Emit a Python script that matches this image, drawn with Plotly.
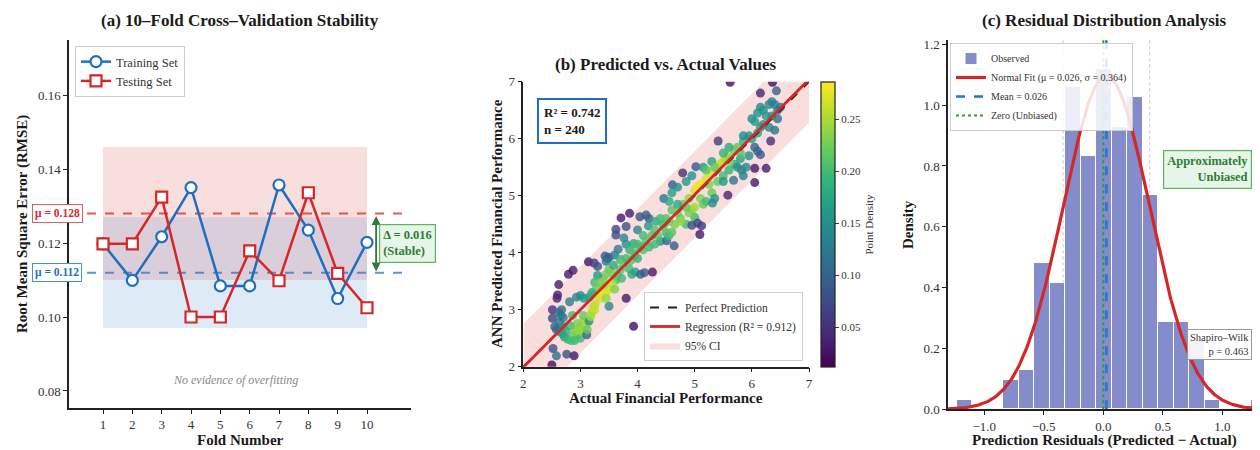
import numpy as np
import plotly.graph_objects as go

# The page body adds an 8 px margin; the figure is sized to fill the rest of the window.
OFF = 8
W, H = 1260 - OFF, 450 - OFF
FONT = "Liberation Serif"
BLUE = "#1f6fbf"
RED = "#d62728"
GREEN = "#2e7d32"

# ---------------- Panel (a) data ----------------
folds = list(range(1, 11))
train_rmse = [0.1198, 0.1099, 0.1217, 0.1350, 0.1084, 0.1084, 0.1357, 0.1235, 0.1050, 0.1202]
test_rmse = [0.1198, 0.1198, 0.1324, 0.1000, 0.1000, 0.1179, 0.1098, 0.1336, 0.1118, 0.1025]
train_mean = 0.112
test_mean = 0.128
train_band = [0.097, 0.127]
test_band = [0.110, 0.146]
delta_text = "0.016"

# ---------------- Panel (b) data ----------------
actual_vals = [
    2.50, 2.52, 2.58, 2.76, 2.89,
    2.51, 2.51, 2.59, 2.60, 2.62, 2.79, 2.87,
    2.62, 2.66, 2.70, 2.67, 2.63, 2.58, 2.62,
    2.81, 2.72, 2.78, 2.84, 2.88, 2.92, 2.96,
    3.00, 2.95, 3.05, 3.10, 3.00, 2.90, 3.02,
    3.00, 3.06, 3.15, 3.20, 3.11, 3.15, 2.70,
    2.86, 3.20, 3.25, 3.05, 2.95, 2.82, 2.75,
    2.68, 3.12, 3.18, 2.93, 2.55,
    3.14, 3.24, 3.30, 3.43, 3.47, 3.50, 3.45,
    3.60, 3.66, 3.70, 3.75, 3.80, 3.88, 3.95, 4.00,
    3.85, 3.90, 3.96, 4.05, 4.12, 4.26,
    3.40, 3.45, 3.50, 3.55, 3.62, 3.30, 3.25,
    3.50, 3.80, 3.93,
    3.30, 3.35, 3.40, 3.45, 3.50, 3.36, 3.26, 3.22, 3.55,
    3.45, 3.60, 3.42, 3.65, 3.70, 3.58, 3.72, 3.35, 3.28, 3.20,
    3.71, 3.86, 4.04, 4.15, 4.20, 3.80, 3.62, 3.62,
    4.19, 4.32, 4.45, 4.00, 3.93, 3.80, 3.86, 4.00, 4.06,
    3.76, 4.10, 4.40, 4.51, 4.64, 4.15, 4.25, 4.30,
    4.46, 4.50, 4.61, 4.79, 5.02,
    4.55, 4.60, 4.70, 4.80, 4.90, 4.75, 4.85, 4.95, 5.00,
    4.55, 4.60, 4.70, 4.85, 4.95, 5.15, 5.30,
    4.95, 5.05, 5.12, 5.09,
    5.00, 5.05, 5.10, 5.20, 5.30, 5.40, 5.45, 5.50,
    5.20, 5.35, 5.25, 5.10, 5.15, 5.30, 5.40,
    4.55, 4.60, 4.65, 4.75, 4.90, 5.00, 5.20, 5.35,
    5.31, 4.70, 4.85,
    5.55, 5.60, 5.70, 5.75, 5.50, 5.60, 5.70, 5.80,
    5.85, 5.60, 5.50, 5.50, 5.75, 5.82, 5.68, 5.85,
    5.90, 5.95, 6.00, 5.95, 5.85,
    5.41, 5.58, 6.05, 6.25, 6.05, 6.33,
    6.05, 6.10, 6.15,
    6.15, 6.20, 6.30, 6.35, 6.40, 6.10, 6.00, 6.05,
    6.25, 6.35, 6.45, 6.20, 6.30, 6.40, 6.15, 6.50,
    6.43, 6.15, 5.62, 6.36, 6.45, 6.10,
    4.35, 4.45, 4.40, 4.50, 4.20, 4.30, 3.95, 4.10, 5.60, 5.80,
]
predicted_vals = [
    2.03, 2.32, 2.19, 2.22, 2.19,
    2.85, 3.00, 3.20, 3.26, 3.44, 3.62, 3.69,
    2.95, 2.90, 2.86, 3.00, 2.78, 2.65, 2.62,
    3.14, 2.52, 2.48, 2.46, 2.55, 2.62, 2.56,
    2.70, 2.76, 2.80, 2.75, 2.50, 2.46, 2.62,
    3.25, 3.20, 3.22, 3.26, 2.56, 2.80, 2.70,
    2.90, 2.95, 3.00, 2.90, 2.65, 2.72, 2.62,
    2.58, 2.65, 2.88, 3.22, 2.70,
    3.84, 3.82, 3.76, 3.94, 3.90, 3.92, 3.85,
    3.96, 4.06, 3.88, 3.82, 3.90, 3.86, 3.95, 3.90,
    3.72, 3.62, 3.66, 3.62, 3.65, 3.66,
    3.55, 3.62, 3.70, 3.65, 3.52, 3.60, 3.48,
    3.06, 3.20, 2.71,
    3.25, 3.30, 3.36, 3.30, 3.36, 3.20, 3.10, 3.05, 3.45,
    3.20, 3.36, 3.44, 3.60, 3.70, 3.78, 3.55, 3.48, 3.38, 3.30,
    4.61, 4.69, 4.63, 4.66, 4.60, 4.46, 4.41, 4.31,
    4.47, 4.55, 4.50, 4.40, 4.16, 4.15, 4.05, 4.15, 4.10,
    4.26, 4.30, 4.20, 4.21, 4.12, 4.20, 4.30, 4.40,
    4.95, 4.35, 5.19, 5.40, 5.51,
    4.55, 4.75, 4.70, 4.85, 4.95, 4.60, 4.50, 4.75, 4.62,
    4.90, 5.05, 5.15, 5.25, 5.35, 5.50, 5.60,
    4.48, 4.52, 4.47, 4.32,
    5.10, 5.16, 5.20, 5.30, 5.40, 5.50, 5.56, 5.60,
    5.45, 5.50, 5.20, 4.95, 4.85, 5.05, 5.25,
    4.30, 4.36, 4.50, 4.55, 4.70, 4.80, 4.90, 4.95,
    4.87, 4.85, 4.80,
    5.65, 5.70, 5.80, 5.85, 5.35, 5.45, 5.55, 5.65,
    5.95, 5.85, 5.75, 5.25, 5.50, 5.45, 5.27, 5.35,
    5.50, 5.70, 6.00, 6.05, 6.05,
    5.96, 5.01, 5.48, 5.48, 5.23, 5.96,
    5.85, 5.78, 5.72,
    6.55, 6.50, 6.60, 6.65, 6.60, 6.45, 6.35, 6.30,
    6.40, 6.40, 6.50, 6.25, 6.20, 6.15, 6.20, 6.55,
    6.84, 6.80, 6.99, 6.99, 6.35, 6.10,
    4.30, 4.45, 4.60, 4.60, 4.10, 4.15, 4.00, 4.05, 5.60, 5.75,
]
density_vals = [
    0.02, 0.08, 0.11, 0.08, 0.03,
    0.07, 0.05, 0.04, 0.04, 0.03, 0.03, 0.03,
    0.11, 0.12, 0.13, 0.11, 0.12, 0.12, 0.14,
    0.13, 0.17, 0.19, 0.20, 0.22, 0.23, 0.23,
    0.24, 0.23, 0.24, 0.25, 0.20, 0.20, 0.24,
    0.15, 0.16, 0.17, 0.18, 0.10, 0.15, 0.15,
    0.20, 0.25, 0.26, 0.22, 0.24, 0.20, 0.19,
    0.17, 0.22, 0.25, 0.14, 0.10,
    0.03, 0.06, 0.08, 0.09, 0.10, 0.09, 0.12,
    0.13, 0.13, 0.19, 0.22, 0.20, 0.21, 0.20, 0.19,
    0.20, 0.18, 0.17, 0.10, 0.09, 0.03,
    0.22, 0.23, 0.22, 0.23, 0.21, 0.16, 0.20,
    0.14, 0.03, 0.02,
    0.27, 0.28, 0.28, 0.27, 0.27, 0.27, 0.26, 0.26, 0.26,
    0.24, 0.23, 0.25, 0.22, 0.21, 0.18, 0.20, 0.23, 0.22, 0.19,
    0.03, 0.03, 0.08, 0.09, 0.10, 0.08, 0.07, 0.08,
    0.16, 0.18, 0.19, 0.14, 0.18, 0.15, 0.19, 0.20, 0.20,
    0.14, 0.20, 0.16, 0.10, 0.09, 0.21, 0.21, 0.21,
    0.12, 0.20, 0.09, 0.05, 0.09,
    0.22, 0.21, 0.23, 0.22, 0.24, 0.22, 0.20, 0.24, 0.20,
    0.18, 0.17, 0.15, 0.16, 0.15, 0.16, 0.17,
    0.08, 0.07, 0.06, 0.03,
    0.27, 0.28, 0.28, 0.27, 0.27, 0.26, 0.26, 0.26,
    0.21, 0.22, 0.23, 0.23, 0.22, 0.22, 0.22,
    0.20, 0.21, 0.23, 0.24, 0.23, 0.25, 0.20, 0.15,
    0.14, 0.18, 0.22,
    0.25, 0.24, 0.23, 0.22, 0.20, 0.19, 0.18, 0.17,
    0.19, 0.18, 0.19, 0.16, 0.15, 0.14, 0.12, 0.13,
    0.14, 0.15, 0.17, 0.16, 0.14,
    0.06, 0.04, 0.03, 0.03, 0.03, 0.05,
    0.10, 0.10, 0.09,
    0.14, 0.15, 0.14, 0.13, 0.13, 0.15, 0.15, 0.16,
    0.16, 0.15, 0.13, 0.16, 0.14, 0.12, 0.16, 0.12,
    0.10, 0.04, 0.02, 0.02, 0.12, 0.17,
    0.21, 0.22, 0.20, 0.21, 0.20, 0.20, 0.21, 0.21, 0.24, 0.21,
]
assert len(actual_vals) == len(predicted_vals) == len(density_vals)
reg_intercept = -0.03
reg_slope = 1.01
ci_half_width = 0.76
r2_text = "0.742"
n_text = "240"
reg_r2_text = "0.912"

# ---------------- Panel (c) data ----------------
bin_start = -1.232
bin_width = 0.1303
resid_density = [0.032, 0.0, 0.0, 0.096, 0.128, 0.480, 0.416, 1.058, 0.833, 1.120,
                 0.929, 1.025, 0.705, 0.288, 0.288, 0.224, 0.032, 0.0, 0.0, 0.032]
resid_mean = 0.026
resid_std = 0.364
shapiro_p = "0.463"

# ---------------- layout geometry (screen pixels -> paper) ----------------
def px(x):
    return (x - OFF) / W

def py(y):
    return 1 - (y - OFF) / H

fig = go.Figure()

# ===== Panel (a) =====
fig.add_trace(go.Scatter(
    x=folds, y=train_rmse, mode="lines+markers", name="Training Set",
    line=dict(color=BLUE, width=2.5),
    marker=dict(symbol="circle", size=11, color="white", line=dict(color=BLUE, width=2.2)),
    xaxis="x", yaxis="y", legend="legend", legendrank=1))
fig.add_trace(go.Scatter(
    x=folds, y=test_rmse, mode="lines+markers", name="Testing Set",
    line=dict(color=RED, width=2.5),
    marker=dict(symbol="square", size=11, color="white", line=dict(color=RED, width=2.2)),
    xaxis="x", yaxis="y", legend="legend", legendrank=2))

shapes = []
shapes.append(dict(type="rect", xref="x", yref="y", x0=folds[0], x1=folds[-1],
                   y0=test_band[0], y1=test_band[1], fillcolor="rgba(220,60,60,0.17)",
                   line=dict(width=0), layer="below"))
shapes.append(dict(type="rect", xref="x", yref="y", x0=folds[0], x1=folds[-1],
                   y0=train_band[0], y1=train_band[1], fillcolor="rgba(60,130,200,0.17)",
                   line=dict(width=0), layer="below"))
shapes.append(dict(type="line", xref="x domain", yref="y", x0=0, x1=1, y0=test_mean, y1=test_mean,
                   line=dict(color="rgba(220,60,60,0.85)", width=2, dash="dash"), layer="below"))
shapes.append(dict(type="line", xref="x domain", yref="y", x0=0, x1=1, y0=train_mean, y1=train_mean,
                   line=dict(color="rgba(60,130,210,0.85)", width=2, dash="dash"), layer="below"))

# ===== Panel (b) =====
ci_x = [2, 7, 7, 2, 2]
ci_y = [reg_intercept + reg_slope * 2 - ci_half_width,
        reg_intercept + reg_slope * 7 - ci_half_width,
        reg_intercept + reg_slope * 7 + ci_half_width,
        reg_intercept + reg_slope * 2 + ci_half_width,
        reg_intercept + reg_slope * 2 - ci_half_width]
fig.add_trace(go.Scatter(
    x=ci_x, y=ci_y, mode="lines", fill="toself", fillcolor="rgba(235,120,120,0.25)",
    line=dict(width=0, color="rgba(235,120,120,0.4)"), name="95% CI",
    xaxis="x2", yaxis="y2", legend="legend2", legendrank=3, hoverinfo="skip"))
fig.add_trace(go.Scatter(
    x=actual_vals, y=predicted_vals, mode="markers", showlegend=False,
    marker=dict(size=9, color=density_vals, colorscale="Viridis", cmin=0.012, cmax=0.286,
                opacity=0.8, line=dict(width=0),
                colorbar=dict(x=px(821), xanchor="left", xpad=0, y=(py(82) + py(367)) / 2,
                              yanchor="middle", ypad=0, len=(367 - 82) / H, lenmode="fraction",
                              thickness=14, outlinewidth=1.2, outlinecolor="#222",
                              tickvals=[0.05, 0.10, 0.15, 0.20, 0.25], tickformat=".2f",
                              ticks="outside", ticklen=4, tickcolor="#333",
                              tickfont=dict(family=FONT, size=11, color="#333"),
                              title=dict(text="Point Density", side="right",
                                         font=dict(family=FONT, size=11, color="#333")))),
    xaxis="x2", yaxis="y2"))
fig.add_trace(go.Scatter(
    x=[2, 7], y=[2, 7], mode="lines", name="Perfect Prediction",
    line=dict(color="#222", width=2, dash="dash"),
    xaxis="x2", yaxis="y2", legend="legend2", legendrank=1))
fig.add_trace(go.Scatter(
    x=[2, 7], y=[reg_intercept + reg_slope * 2, reg_intercept + reg_slope * 7], mode="lines",
    name=f"Regression (R² = {reg_r2_text})", line=dict(color=RED, width=2.8),
    xaxis="x2", yaxis="y2", legend="legend2", legendrank=2))

# ===== Panel (c) =====
centers = [bin_start + bin_width * (i + 0.5) for i in range(len(resid_density))]
fig.add_trace(go.Bar(
    x=centers, y=resid_density, width=bin_width, name="Observed",
    marker=dict(color="rgba(110,120,195,0.85)", line=dict(color="white", width=1)),
    xaxis="x3", yaxis="y3", legend="legend3", legendrank=1))
xs = np.linspace(-1.305, 1.30, 300)
pdf = np.exp(-0.5 * ((xs - resid_mean) / resid_std) ** 2) / (resid_std * np.sqrt(2 * np.pi))
fig.add_trace(go.Scatter(
    x=xs, y=pdf, mode="lines", name=f"Normal Fit (μ = {resid_mean:.3f}, σ = {resid_std:.3f})",
    line=dict(color=RED, width=3.2), xaxis="x3", yaxis="y3", legend="legend3", legendrank=2))
fig.add_trace(go.Scatter(
    x=[resid_mean, resid_mean], y=[0, 1.215], mode="lines", name=f"Mean = {resid_mean:.3f}",
    line=dict(color="#1f77d4", width=2.5, dash="dash"), xaxis="x3", yaxis="y3",
    legend="legend3", legendrank=3))
fig.add_trace(go.Scatter(
    x=[0, 0], y=[0, 1.215], mode="lines", name="Zero (Unbiased)",
    line=dict(color="#2ca02c", width=2, dash="dot"), xaxis="x3", yaxis="y3",
    legend="legend3", legendrank=4))
for v in (resid_mean - resid_std, resid_mean + resid_std):
    shapes.append(dict(type="line", xref="x3", yref="y3 domain", x0=v, x1=v, y0=0, y1=1,
                       line=dict(color="#c8c8c8", width=1, dash="dot"), layer="below"))

# ---------------- axes ----------------
def axis_style(**kw):
    d = dict(showline=True, linecolor="#222", linewidth=1.5, ticks="outside", ticklen=4,
             tickwidth=1.2, tickcolor="#222", showgrid=False, zeroline=False, mirror=False,
             automargin=False, tickfont=dict(family=FONT, size=13, color="#333"))
    d.update(kw)
    return d

layout = dict(
    template="none",
    width=W, height=H, margin=dict(l=0, r=0, t=0, b=0, pad=0), autosize=False,
    paper_bgcolor="white", plot_bgcolor="white",
    font=dict(family=FONT, color="#222"),
    bargap=0,
    xaxis=axis_style(domain=[px(69), px(411)], range=[-0.16, 11.5], tickvals=folds, anchor="y"),
    yaxis=axis_style(domain=[py(408), py(40)], range=[0.0754, 0.1749],
                     tickvals=[0.08, 0.10, 0.12, 0.14, 0.16], tickformat=".2f", anchor="x"),
    xaxis2=axis_style(domain=[px(523.3), px(809)], range=[2, 7], tickvals=[2, 3, 4, 5, 6, 7], anchor="y2"),
    yaxis2=axis_style(domain=[py(366.7), py(81.7)], range=[2, 7], tickvals=[2, 3, 4, 5, 6, 7], anchor="x2"),
    xaxis3=axis_style(domain=[px(948), px(1258)], range=[-1.305, 1.30],
                      tickvals=[-1.0, -0.5, 0.0, 0.5, 1.0], tickformat=".1f", anchor="y3"),
    yaxis3=axis_style(domain=[py(409.3), py(40)], range=[0, 1.214],
                      tickvals=[0, 0.2, 0.4, 0.6, 0.8, 1.0, 1.2], tickformat=".1f", anchor="x3"),
    legend=dict(x=px(75), y=py(46), xanchor="left", yanchor="top",
                bgcolor="rgba(255,255,255,0.9)", bordercolor="#cccccc", borderwidth=1,
                font=dict(family=FONT, size=12.5, color="#333"), itemwidth=30),
    legend2=dict(x=px(803), y=py(361), xanchor="right", yanchor="bottom",
                 bgcolor="rgba(255,255,255,0.9)", bordercolor="#cccccc", borderwidth=1,
                 font=dict(family=FONT, size=11.5, color="#333"), itemwidth=30),
    legend3=dict(x=px(950), y=py(43), xanchor="left", yanchor="top",
                 bgcolor="rgba(255,255,255,0.85)", bordercolor="#cccccc", borderwidth=1,
                 font=dict(family=FONT, size=10, color="#333"), itemwidth=30),
    shapes=shapes,
)
fig.update_layout(**layout)

ann = []
def title(text, x, y, size=17):
    ann.append(dict(text=f"<b>{text}</b>", x=px(x), y=py(y), xref="paper", yref="paper",
                    showarrow=False, xanchor="center", yanchor="middle",
                    font=dict(family=FONT, size=size, color="#1a1a1a")))

title("(a) 10–Fold Cross–Validation Stability", 240, 20)
title("(b) Predicted vs. Actual Values", 666, 64)
title("(c) Residual Distribution Analysis", 1104, 20)

def axtitle(text, x, y, angle=0, size=15):
    ann.append(dict(text=f"<b>{text}</b>", x=px(x), y=py(y), xref="paper", yref="paper",
                    showarrow=False, xanchor="center", yanchor="middle", textangle=angle,
                    font=dict(family=FONT, size=size, color="#1a1a1a")))

axtitle("Fold Number", 240, 440)
axtitle("Root Mean Square Error (RMSE)", 22, 224, -90)
axtitle("Actual Financial Performance", 666, 398)
axtitle("ANN Predicted Financial Performance", 497, 224, -90)
axtitle("Prediction Residuals (Predicted − Actual)", 1104, 440)
axtitle("Density", 908, 225, -90)

# mean labels panel (a)
ann.append(dict(text=f"<b>μ = {test_mean:.3f}</b>", x=px(57), y=test_mean, xref="paper", yref="y",
                showarrow=False, xanchor="center", yanchor="middle", bgcolor="white",
                bordercolor="#e06060", borderwidth=1, borderpad=2,
                font=dict(family=FONT, size=11.5, color=RED)))
ann.append(dict(text=f"<b>μ = {train_mean:.3f}</b>", x=px(57), y=train_mean, xref="paper", yref="y",
                showarrow=False, xanchor="center", yanchor="middle", bgcolor="white",
                bordercolor="#4a90d9", borderwidth=1, borderpad=2,
                font=dict(family=FONT, size=11.5, color=BLUE)))
# double arrow
ann.append(dict(x=10.31, y=train_mean + 0.0003, ax=10.31, ay=test_mean - 0.0003, xref="x", yref="y",
                axref="x", ayref="y", text="", showarrow=True, arrowhead=2, arrowsize=1,
                arrowwidth=1.8, arrowcolor=GREEN, arrowside="end+start"))
ann.append(dict(text=f"<b>Δ = {delta_text}<br>(Stable)</b>", x=px(379), y=(train_mean + test_mean) / 2,
                xref="paper", yref="y", showarrow=False, xanchor="left", yanchor="middle",
                align="left", bgcolor="#e8f5e9", bordercolor="#5cb85c", borderwidth=1.2, borderpad=3,
                font=dict(family=FONT, size=12.5, color=GREEN)))
ann.append(dict(text="<i>No evidence of overfitting</i>", x=5.5, y=0.083, xref="x", yref="y",
                showarrow=False, font=dict(family=FONT, size=12, color="#888888")))

# panel (b) R2 box
ann.append(dict(text=f"<b>R² = {r2_text}<br>n = {n_text}</b>", x=px(537), y=py(98), xref="paper",
                yref="paper", showarrow=False, xanchor="left", yanchor="top", align="left",
                bgcolor="white", bordercolor=BLUE, borderwidth=2, borderpad=5,
                font=dict(family=FONT, size=13, color="#1a1a1a")))

# panel (c) boxes
ann.append(dict(text="<b>Approximately<br>Unbiased</b>", x=px(1252), y=py(150), xref="paper",
                yref="paper", showarrow=False, xanchor="right", yanchor="top", align="right",
                bgcolor="#e8f5e9", bordercolor="#5cb85c", borderwidth=1.2, borderpad=3,
                font=dict(family=FONT, size=12.5, color=GREEN)))
ann.append(dict(text=f"Shapiro–Wilk<br>p = {shapiro_p}", x=px(1252), y=py(329), xref="paper",
                yref="paper", showarrow=False, xanchor="right", yanchor="top", align="right",
                bgcolor="rgba(255,255,255,0.9)", bordercolor="#999999", borderwidth=1, borderpad=2,
                font=dict(family=FONT, size=10.5, color="#333")))

fig.update_layout(annotations=ann)
fig.write_html("out.html")
